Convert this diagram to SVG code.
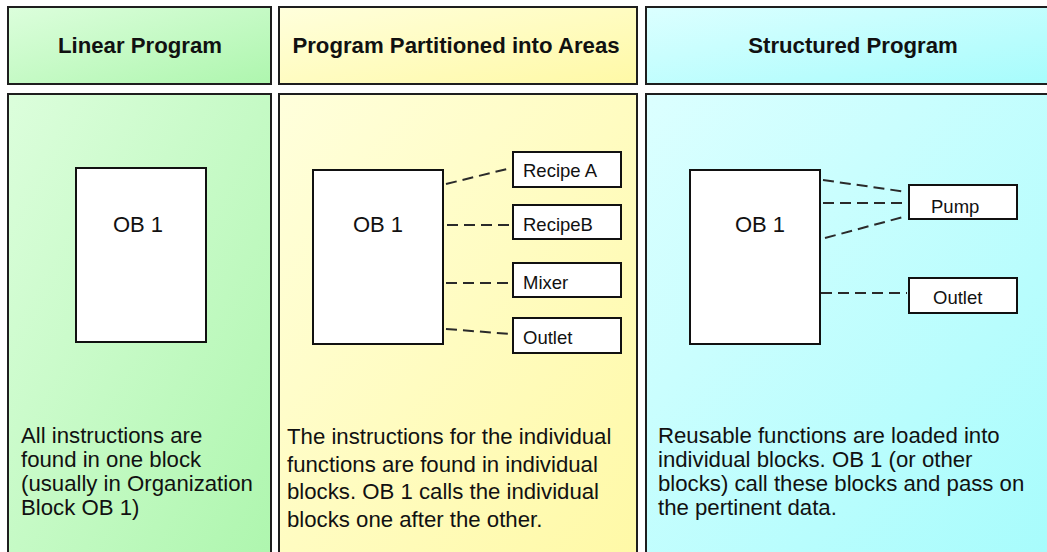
<svg xmlns="http://www.w3.org/2000/svg" width="1047" height="552" viewBox="0 0 1047 552">
  <defs>
    <linearGradient id="gGreen" x1="0" y1="0" x2="1" y2="1">
      <stop offset="0" stop-color="#dcfedc"/>
      <stop offset="1" stop-color="#aef6ae"/>
    </linearGradient>
    <linearGradient id="gYellow" x1="0" y1="0" x2="1" y2="1">
      <stop offset="0" stop-color="#ffffdc"/>
      <stop offset="1" stop-color="#fff9a6"/>
    </linearGradient>
    <linearGradient id="gCyan" x1="0" y1="0" x2="1" y2="1">
      <stop offset="0" stop-color="#dcffff"/>
      <stop offset="1" stop-color="#a6fcfc"/>
    </linearGradient>
    <style>
      .panel { stroke: #1e1e1e; stroke-width: 2; }
      .head { font-family: "Liberation Sans", Arial, sans-serif; font-weight: bold; font-size: 22.2px; fill: #111; text-anchor: middle; }
      .block { fill: #ffffff; stroke: #111; stroke-width: 2; }
      .ob { font-family: "Liberation Sans", Arial, sans-serif; font-size: 22px; fill: #111; text-anchor: middle; }
      .sub { fill: #ffffff; stroke: #111; stroke-width: 2; }
      .lbl { font-family: "Liberation Sans", Arial, sans-serif; font-size: 18.5px; fill: #111; }
      .body { font-family: "Liberation Sans", Arial, sans-serif; font-size: 22.2px; fill: #111; }
      .conn { stroke: #2a2a2a; stroke-width: 2; stroke-dasharray: 11 6; fill: none; }
    </style>
  </defs>

  <rect width="1047" height="552" fill="#ffffff"/>

  <!-- Column headers -->
  <g id="head-linear">
    <rect class="panel" x="8" y="7" width="263" height="77" fill="url(#gGreen)"/>
    <text class="head" x="140" y="53">Linear Program</text>
  </g>
  <g id="head-partitioned">
    <rect class="panel" x="279" y="7" width="358" height="77" fill="url(#gYellow)"/>
    <text class="head" x="456" y="53">Program Partitioned into Areas</text>
  </g>
  <g id="head-structured">
    <rect class="panel" x="646" y="7" width="416" height="77" fill="url(#gCyan)"/>
    <text class="head" x="853" y="53">Structured Program</text>
  </g>

  <!-- Column bodies -->
  <g id="col-linear">
    <rect class="panel" x="8" y="94" width="263" height="470" fill="url(#gGreen)"/>
    <text class="body" x="21">
      <tspan x="21" y="443">All instructions are</tspan>
      <tspan x="21" y="467">found in one block</tspan>
      <tspan x="21" y="491">(usually in Organization</tspan>
      <tspan x="21" y="515">Block OB 1)</tspan>
    </text>
  </g>
  <g id="col-partitioned">
    <rect class="panel" x="279" y="94" width="358" height="470" fill="url(#gYellow)"/>
    <text class="body" x="287">
      <tspan x="287" y="444">The instructions for the individual</tspan>
      <tspan x="287" y="471.5">functions are found in individual</tspan>
      <tspan x="287" y="499">blocks. OB 1 calls the individual</tspan>
      <tspan x="287" y="526.5">blocks one after the other.</tspan>
    </text>
  </g>
  <g id="col-structured">
    <rect class="panel" x="646" y="94" width="416" height="470" fill="url(#gCyan)"/>
    <text class="body" x="658">
      <tspan x="658" y="443">Reusable functions are loaded into</tspan>
      <tspan x="658" y="467">individual blocks. OB 1 (or other</tspan>
      <tspan x="658" y="491">blocks) call these blocks and pass on</tspan>
      <tspan x="658" y="515">the pertinent data.</tspan>
    </text>
  </g>

  <!-- Linear program block -->
  <g id="ob1-linear">
    <rect class="block" x="76" y="168" width="130" height="174"/>
    <text class="ob" x="138" y="232">OB 1</text>
  </g>

  <!-- Partitioned program blocks -->
  <g id="ob1-partitioned">
    <rect class="block" x="313" y="170" width="130" height="174"/>
    <text class="ob" x="378" y="232">OB 1</text>
  </g>
  <g id="recipe-a">
    <rect class="sub" x="513" y="152" width="108" height="35"/>
    <text class="lbl" x="523" y="177">Recipe A</text>
  </g>
  <g id="recipe-b">
    <rect class="sub" x="513" y="205" width="108" height="34"/>
    <text class="lbl" x="523" y="231">RecipeB</text>
  </g>
  <g id="mixer">
    <rect class="sub" x="513" y="263" width="108" height="34"/>
    <text class="lbl" x="523" y="289">Mixer</text>
  </g>
  <g id="outlet-a">
    <rect class="sub" x="513" y="318" width="108" height="35"/>
    <text class="lbl" x="523" y="344">Outlet</text>
  </g>

  <!-- Structured program blocks -->
  <g id="ob1-structured">
    <rect class="block" x="690" y="170" width="130" height="174"/>
    <text class="ob" x="760" y="232">OB 1</text>
  </g>
  <g id="pump">
    <rect class="sub" x="909" y="185" width="108" height="34"/>
    <text class="lbl" x="931" y="213">Pump</text>
  </g>
  <g id="outlet-b">
    <rect class="sub" x="909" y="278" width="108" height="35"/>
    <text class="lbl" x="933" y="304">Outlet</text>
  </g>

  <!-- Call connections -->
  <g id="connectors">
    <line class="conn" x1="446" y1="184" x2="511" y2="168"/>
    <line class="conn" x1="447" y1="225" x2="511" y2="225"/>
    <line class="conn" x1="446" y1="283" x2="511" y2="283"/>
    <line class="conn" x1="446" y1="329" x2="511" y2="334"/>
    <line class="conn" x1="823" y1="180" x2="907" y2="192"/>
    <line class="conn" x1="823" y1="203" x2="907" y2="203"/>
    <line class="conn" x1="825" y1="238" x2="907" y2="216"/>
    <line class="conn" x1="821" y1="293" x2="907" y2="293"/>
  </g>
</svg>
